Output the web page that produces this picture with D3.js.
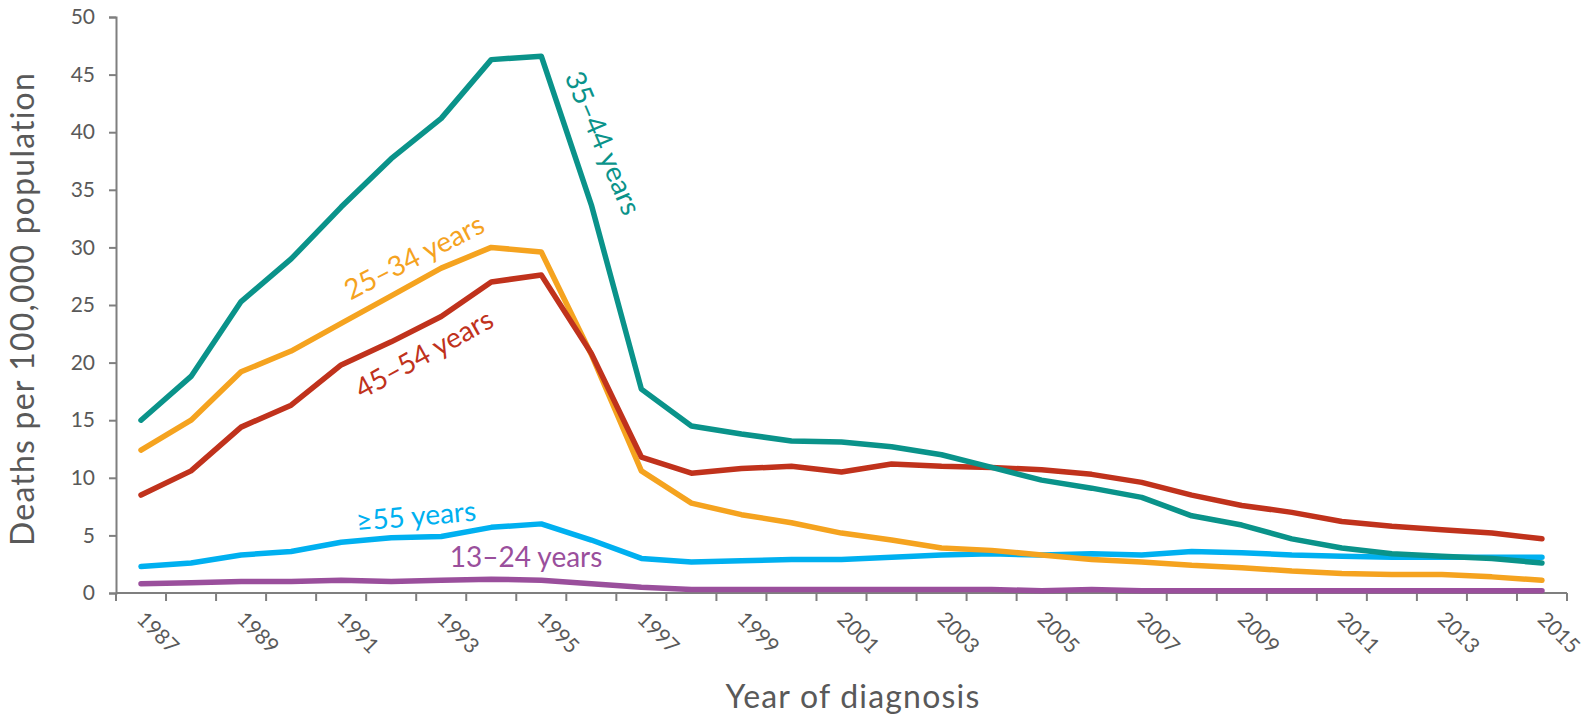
<!DOCTYPE html>
<html>
<head>
<meta charset="utf-8">
<title>Deaths by age group</title>
<script src="https://d3js.org/d3.v7.min.js"></script>
<style>
  body { margin: 0; background: #fff; }
  svg text { font-family: Lato, "Open Sans", sans-serif; }
  .axis path, .axis line { stroke: #7f7f7f; stroke-width: 2px; }
  .axis text { fill: #595959; font-size: 21px; }
  .xlab { font-size: 20px; }
  .series { fill: none; stroke-width: 5.5px; stroke-linejoin: round; stroke-linecap: round; }
</style>
</head>
<body>
<svg width="1585" height="715"></svg>
<script>
// years of diagnosis
var years = d3.range(1987, 2016);

var age13_24 = [0.8, 0.9, 1.0, 1.0, 1.1, 1.0, 1.1, 1.2, 1.1, 0.8, 0.5, 0.3, 0.3, 0.3, 0.3, 0.3, 0.3, 0.3, 0.2, 0.3, 0.2, 0.2, 0.2, 0.2, 0.2, 0.2, 0.2, 0.2, 0.2];
var age25_34 = [12.4, 15.0, 19.2, 21.0, 23.4, 25.8, 28.2, 30.0, 29.6, 20.7, 10.6, 7.8, 6.8, 6.1, 5.2, 4.6, 3.9, 3.7, 3.3, 2.9, 2.7, 2.4, 2.2, 1.9, 1.7, 1.6, 1.6, 1.4, 1.1];
var age35_44 = [15.0, 18.8, 25.3, 29.0, 33.5, 37.7, 41.2, 46.3, 46.6, 33.7, 17.7, 14.5, 13.8, 13.2, 13.1, 12.7, 12.0, 10.9, 9.8, 9.1, 8.3, 6.7, 5.9, 4.7, 3.9, 3.4, 3.2, 3.0, 2.6];
var age45_54 = [8.5, 10.6, 14.4, 16.3, 19.8, 21.8, 24.0, 27.0, 27.6, 20.8, 11.8, 10.4, 10.8, 11.0, 10.5, 11.2, 11.0, 10.9, 10.7, 10.3, 9.6, 8.5, 7.6, 7.0, 6.2, 5.8, 5.5, 5.2, 4.7];
var age55plus = [2.3, 2.6, 3.3, 3.6, 4.4, 4.8, 4.9, 5.7, 6.0, 4.6, 3.0, 2.7, 2.8, 2.9, 2.9, 3.1, 3.3, 3.4, 3.3, 3.4, 3.3, 3.6, 3.5, 3.3, 3.2, 3.1, 3.1, 3.1, 3.1];

var yTicks = [0, 5, 10, 15, 20, 25, 30, 35, 40, 45, 50];

var series = [
  {name: "13\u201324 years", values: age13_24, color: "#9a4f9c"},
  {name: "\u226555 years", values: age55plus, color: "#00b0f0"},
  {name: "25\u201334 years", values: age25_34, color: "#f5a31f"},
  {name: "45\u201354 years", values: age45_54, color: "#c0321c"},
  {name: "35\u201344 years", values: age35_44, color: "#0a938a"}
];

// label placement: [x, y, angle]
var labelPos = {
  "35\u201344 years": [603, 143, 67],
  "25\u201334 years": [414, 257, -27],
  "45\u201354 years": [424, 354, -29],
  "\u226555 years": [416, 516, -5],
  "13\u201324 years": [526, 557, 0]
};

var svg = d3.select("svg"),
    margin = {top: 17, right: 18, bottom: 122, left: 116},
    width = +svg.attr("width") - margin.left - margin.right,
    height = +svg.attr("height") - margin.top - margin.bottom;

var g = svg.append("g").attr("transform", "translate(" + margin.left + "," + margin.top + ")");

var x = d3.scaleBand().domain(years).range([0, width]);
var y = d3.scaleLinear().domain([0, 50]).range([height, 0]);

// y axis
g.append("g")
    .attr("class", "axis")
    .call(d3.axisLeft(y).tickValues(yTicks).tickSize(7).tickPadding(14));

// x axis: ticks on band edges, labels every other year
var xAxis = g.append("g")
    .attr("class", "axis")
    .attr("transform", "translate(0," + height + ")");
xAxis.append("line")
    .attr("x1", 0).attr("x2", width);
xAxis.selectAll(".tk")
    .data(years.concat([2016]))
    .enter().append("line")
    .attr("class", "tk")
    .attr("x1", function(d, i) { return i * x.step(); })
    .attr("x2", function(d, i) { return i * x.step(); })
    .attr("y1", 0).attr("y2", 8);
xAxis.selectAll("text")
    .data(years.filter(function(d) { return (d - 1987) % 2 === 0; }))
    .enter().append("text")
    .attr("class", "xlab")
    .attr("transform", function(d) {
      return "translate(" + (x(d) + x.bandwidth() / 2 + 5) + ",17) rotate(45)";
    })
    .attr("dy", "0.7em")
    .text(function(d) { return d; });

// lines
var line = d3.line()
    .x(function(d, i) { return x(years[i]) + x.bandwidth() / 2; })
    .y(function(d) { return y(d); });

g.selectAll(".series")
    .data(series)
    .enter().append("path")
    .attr("class", "series")
    .attr("stroke", function(d) { return d.color; })
    .attr("d", function(d) { return line(d.values); });

// series labels
svg.selectAll(".lbl")
    .data(series)
    .enter().append("text")
    .attr("class", "lbl")
    .attr("text-anchor", "middle")
    .attr("dy", "0.35em")
    .attr("transform", function(d) {
      var p = labelPos[d.name];
      return "translate(" + p[0] + "," + p[1] + ") rotate(" + p[2] + ")";
    })
    .style("font-size", "28px")
    .style("fill", function(d) { return d.color; })
    .text(function(d) { return d.name; });

// axis titles
svg.append("text")
    .attr("transform", "translate(34," + (margin.top + height / 2 + 4) + ") rotate(-90)")
    .attr("text-anchor", "middle")
    .style("font-size", "32px")
    .style("letter-spacing", "1.2px")
    .style("fill", "#595959")
    .text("Deaths per 100,000 population");

svg.append("text")
    .attr("x", 853)
    .attr("y", 708)
    .attr("text-anchor", "middle")
    .style("font-size", "32px")
    .style("letter-spacing", "1.2px")
    .style("fill", "#595959")
    .text("Year of diagnosis");
</script>
</body>
</html>
